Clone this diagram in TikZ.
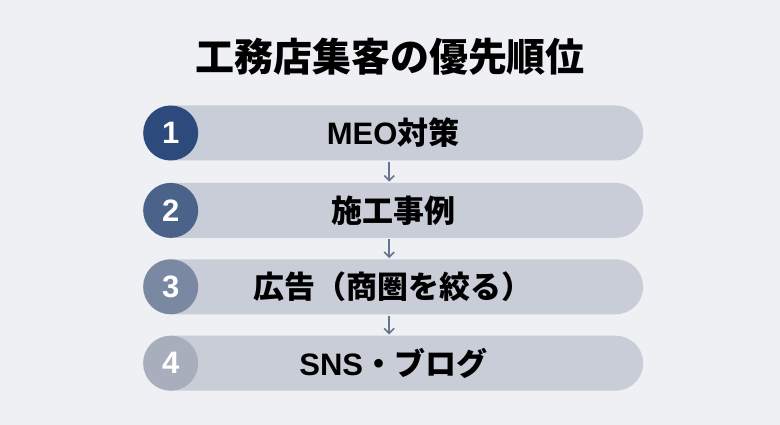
\documentclass[tikz,border=0pt]{standalone}
\usepackage{fontspec}
\setmainfont{Noto Sans CJK JP}
\newfontfamily\latinfont{Liberation Sans}
\usepackage{tikz}
\usetikzlibrary{arrows.meta}
\usetikzlibrary{positioning}
\definecolor{bgcol}{HTML}{EFF0F4}
\definecolor{barcol}{HTML}{C8CDD8}
\definecolor{arrowcol}{HTML}{66748F}
\definecolor{rank1}{HTML}{2D4A7C}
\definecolor{rank2}{HTML}{4B6289}
\definecolor{rank3}{HTML}{7A88A2}
\definecolor{rank4}{HTML}{A9AEBC}
\tikzstyle{bar} = [fill = barcol, rectangle, rounded corners = 27.5pt, minimum height = 55pt, minimum width = 500pt, font = \bfseries\fontsize{31}{33}\selectfont]
\tikzstyle{badge} = [circle, minimum size = 55pt, inner sep = 0pt, text = white, font = \latinfont\bfseries\fontsize{31}{33}\selectfont]
\tikzstyle{arrow} = [arrowcol, line width = 1.6pt, -{Straight Barb[length = 5pt, width = 10pt]}, shorten < = 1pt, shorten > = 1pt]

\begin{document}
\begin{tikzpicture}[x = 1pt, y = -1pt]

		% Background
		\fill[bgcol] (0,0) rectangle (780,425);

		% Title
		\node[font = \bfseries\fontsize{39}{41}\selectfont] (title) at (390,57) {工務店集客の優先順位};

		% Bars
		\node[bar, anchor = west] (bar1) at (143,133) {{\latinfont MEO}対策};
		\node[bar, below = 22pt of bar1] (bar2) {施工事例};
		\node[bar, below = 21pt of bar2] (bar3) {広告（商圏を絞る）};
		\node[bar, below = 21pt of bar3] (bar4) {{\latinfont SNS}・ブログ};

		% Rank circles
		\node[badge, fill = rank1, anchor = west] (rank1) at (bar1.west) {1};
		\node[badge, fill = rank2, anchor = west] (rank2) at (bar2.west) {2};
		\node[badge, fill = rank3, anchor = west] (rank3) at (bar3.west) {3};
		\node[badge, fill = rank4, anchor = west] (rank4) at (bar4.west) {4};

		% Connect the bars
		\draw[arrow] ([xshift = -4pt]bar1.south) -- ([xshift = -4pt]bar2.north);
		\draw[arrow] ([xshift = -4pt]bar2.south) -- ([xshift = -4pt]bar3.north);
		\draw[arrow] ([xshift = -4pt]bar3.south) -- ([xshift = -4pt]bar4.north);

\end{tikzpicture}
\end{document}
